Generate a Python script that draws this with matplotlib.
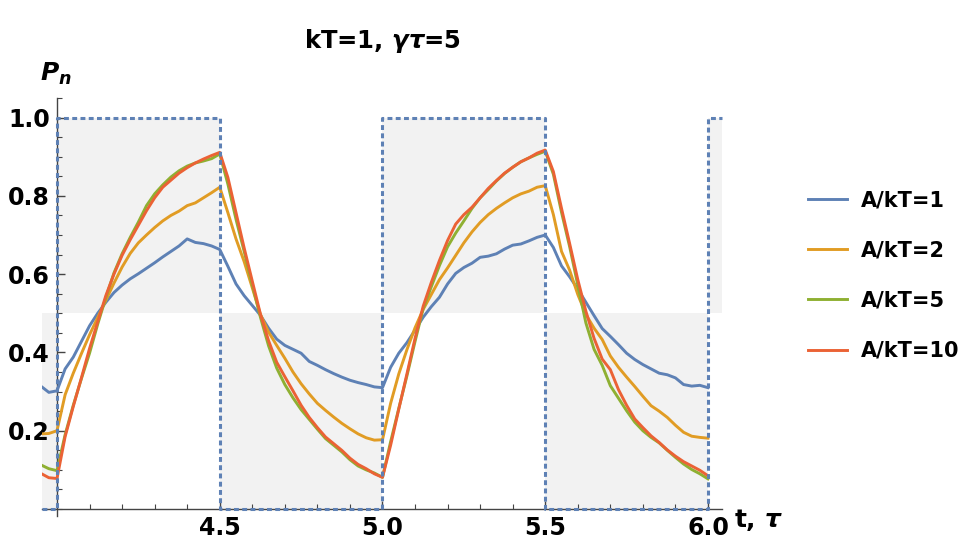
import numpy as np
import matplotlib
matplotlib.use("Agg")
import matplotlib.pyplot as plt
from matplotlib.ticker import MultipleLocator, FixedLocator

plt.rcParams['font.family'] = ['DejaVu Sans']
plt.rcParams['font.weight'] = 'bold'
plt.rcParams['mathtext.fontset'] = 'custom'
plt.rcParams['mathtext.it'] = 'DejaVu Sans:italic:bold'
plt.rcParams['mathtext.rm'] = 'DejaVu Sans:bold'
plt.rcParams['mathtext.bf'] = 'DejaVu Sans:bold'

# time grid: two lead-in points, then 4.0 .. 6.0 in steps of 0.025
t = [3.955, 3.975] + list(np.round(np.arange(4.0, 6.0001, 0.025), 3))

p_a1 = [0.311, 0.298,
        0.302, 0.358, 0.388, 0.428, 0.468, 0.500, 0.528, 0.553, 0.572, 0.588, 0.601,
        0.615, 0.629, 0.644, 0.658, 0.672, 0.690, 0.681, 0.678, 0.672, 0.663,
        0.620, 0.575, 0.545, 0.520, 0.495, 0.462, 0.434, 0.418, 0.408, 0.398,
        0.377, 0.367, 0.356, 0.346, 0.337, 0.329, 0.323, 0.318, 0.312, 0.310,
        0.362, 0.398, 0.425, 0.457, 0.490, 0.517, 0.541, 0.575, 0.602, 0.617,
        0.628, 0.643, 0.646, 0.652, 0.664, 0.674, 0.677, 0.685, 0.694, 0.700,
        0.668, 0.621, 0.593, 0.562, 0.528, 0.494, 0.461, 0.441, 0.420, 0.398,
        0.382, 0.369, 0.358, 0.347, 0.343, 0.335, 0.318, 0.314, 0.316, 0.310]

p_a2 = [0.192, 0.193,
        0.200, 0.292, 0.347, 0.397, 0.445, 0.489, 0.533, 0.577, 0.618, 0.653, 0.680,
        0.700, 0.719, 0.736, 0.750, 0.761, 0.775, 0.782, 0.795, 0.808, 0.822,
        0.757, 0.690, 0.632, 0.565, 0.497, 0.452, 0.418, 0.385, 0.350, 0.320,
        0.294, 0.270, 0.252, 0.235, 0.219, 0.205, 0.192, 0.182, 0.176, 0.177,
        0.270, 0.345, 0.407, 0.463, 0.510, 0.548, 0.586, 0.616, 0.648, 0.680,
        0.708, 0.732, 0.752, 0.768, 0.782, 0.795, 0.805, 0.812, 0.822, 0.826,
        0.752, 0.658, 0.610, 0.548, 0.497, 0.462, 0.433, 0.391, 0.362, 0.337,
        0.313, 0.288, 0.264, 0.250, 0.234, 0.214, 0.196, 0.186, 0.183, 0.181]

p_a5 = [0.111, 0.103,
        0.098, 0.190, 0.265, 0.333, 0.398, 0.472, 0.540, 0.603, 0.652, 0.694, 0.733,
        0.775, 0.805, 0.828, 0.848, 0.864, 0.876, 0.884, 0.889, 0.895, 0.907,
        0.830, 0.740, 0.658, 0.573, 0.490, 0.417, 0.360, 0.318, 0.284, 0.254,
        0.229, 0.204, 0.180, 0.163, 0.146, 0.126, 0.110, 0.100, 0.092, 0.081,
        0.172, 0.257, 0.340, 0.428, 0.512, 0.568, 0.622, 0.670, 0.705, 0.736,
        0.768, 0.795, 0.816, 0.838, 0.857, 0.873, 0.887, 0.897, 0.906, 0.914,
        0.855, 0.758, 0.670, 0.572, 0.475, 0.408, 0.367, 0.315, 0.283, 0.251,
        0.222, 0.200, 0.183, 0.169, 0.150, 0.132, 0.115, 0.101, 0.090, 0.077]

p_a10 = [0.089, 0.080,
         0.078, 0.185, 0.262, 0.335, 0.410, 0.478, 0.545, 0.600, 0.648, 0.688, 0.725,
         0.762, 0.795, 0.822, 0.840, 0.858, 0.872, 0.884, 0.894, 0.903, 0.911,
         0.847, 0.757, 0.667, 0.582, 0.498, 0.430, 0.375, 0.338, 0.302, 0.265,
         0.234, 0.208, 0.184, 0.167, 0.150, 0.130, 0.114, 0.103, 0.090, 0.081,
         0.163, 0.255, 0.345, 0.436, 0.518, 0.579, 0.635, 0.686, 0.728, 0.752,
         0.771, 0.795, 0.819, 0.839, 0.858, 0.873, 0.887, 0.897, 0.909, 0.917,
         0.862, 0.768, 0.678, 0.586, 0.505, 0.436, 0.383, 0.356, 0.305, 0.265,
         0.230, 0.208, 0.187, 0.170, 0.151, 0.135, 0.121, 0.110, 0.099, 0.085]

labels = ['A/kT=1', 'A/kT=2', 'A/kT=5', 'A/kT=10']
colors = ['#5e81b5', '#e19c24', '#8fb032', '#eb6235']

# driving field (square wave), used for the dashed line and the gray bands
field_t = [3.954, 4.0, 4.5, 5.0, 5.5, 6.0, 6.043]
field_v = [0, 1, 0, 1, 0, 1, 1]

fig = plt.figure(figsize=(9.66, 5.44), dpi=100)
ax = fig.add_axes([0.0435, 0.0506, 0.7039, 0.7693])

fv = np.array(field_v)
ax.fill_between(field_t, 0.5 * fv, 0.5 + 0.5 * fv, step='post',
                color='#f2f2f2', lw=0, zorder=0)

for series, lab, c in zip([p_a1, p_a2, p_a5, p_a10], labels, colors):
    ax.plot(t, series, color=c, lw=2.1, label=lab, zorder=3)

ax.plot(field_t, field_v, drawstyle='steps-post', color='#5e81b5', lw=2.2,
        dashes=(1.6, 1.1), zorder=4, clip_on=False)

ax.set_xlim(3.954, 6.043)
ax.set_ylim(-0.019, 1.05)

for s in ['top', 'right']:
    ax.spines[s].set_visible(False)
ax.spines['left'].set_position(('data', 4.0))
ax.spines['bottom'].set_position(('data', 0.0))
for s in ['left', 'bottom']:
    ax.spines[s].set_color('#444444')
    ax.spines[s].set_linewidth(1.0)

ax.xaxis.set_major_locator(FixedLocator([4.5, 5.0, 5.5, 6.0]))
ax.xaxis.set_minor_locator(MultipleLocator(0.1))
ax.yaxis.set_major_locator(FixedLocator([0.2, 0.4, 0.6, 0.8, 1.0]))
ax.yaxis.set_minor_locator(MultipleLocator(0.05))
ax.xaxis.set_major_formatter(plt.FormatStrFormatter('%.1f'))
ax.yaxis.set_major_formatter(plt.FormatStrFormatter('%.1f'))
ax.tick_params(which='major', direction='in', length=6, width=1.0, color='#444444',
               labelsize=17, pad=5)
ax.tick_params(which='minor', direction='in', length=3.5, width=0.8, color='#444444')

ax.set_title('kT=1, $\\gamma\\tau$=5', fontsize=17.5, fontweight='bold', pad=36)

fig.text(40 / 966, 1 - 81 / 544, '$P_n$', fontsize=18, va='baseline', ha='left')
fig.text(734 / 966, 1 - 527 / 544, 't, $\\tau$', fontsize=18, va='baseline',
         ha='left', fontweight='bold')

ax.legend(loc='center left', bbox_to_anchor=(808 / 966, 1 - 275.5 / 544),
          bbox_transform=fig.transFigure, frameon=False, fontsize=15,
          handlelength=1.85, handletextpad=0.7, labelspacing=1.45,
          borderpad=0, borderaxespad=0)

fig.savefig('out.png', dpi=100)
